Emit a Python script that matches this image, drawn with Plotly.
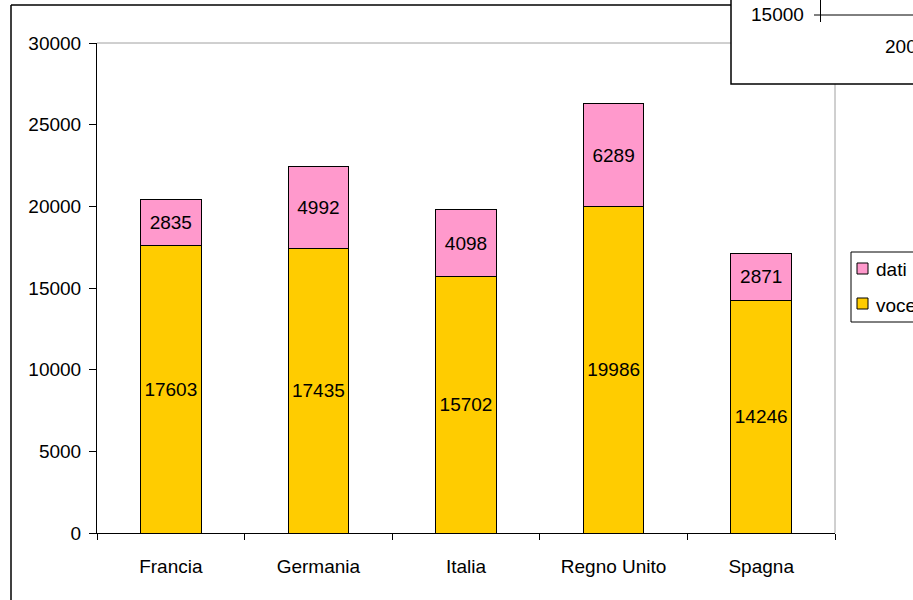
import plotly.graph_objects as go

categories = ["Francia", "Germania", "Italia", "Regno Unito", "Spagna"]
voce = [17603, 17435, 15702, 19986, 14246]
dati = [2835, 4992, 4098, 6289, 2871]
y_ticks = [0, 5000, 10000, 15000, 20000, 25000, 30000]

PINK = "#FF99CC"
YELLOW = "#FFCC00"
FONT = "Liberation Sans, Arial, sans-serif"
FS = 19

W, H = 913, 600
L, R, T, B = 97, 835, 43, 533


def px(x):
    return (x - L) / (R - L)


def py(y):
    return (B - y) / (B - T)


fig = go.Figure()
fig.add_trace(go.Bar(
    x=categories, y=voce, name="voce", marker=dict(color=YELLOW, line=dict(color="black", width=1)),
    text=[str(v) for v in voce], textposition="inside", insidetextanchor="middle",
    textfont=dict(size=FS, color="black", family=FONT), constraintext="none",
    width=0.41, showlegend=False,
))
fig.add_trace(go.Bar(
    x=categories, y=dati, name="dati", marker=dict(color=PINK, line=dict(color="black", width=1)),
    text=[str(v) for v in dati], textposition="inside", insidetextanchor="middle",
    textfont=dict(size=FS, color="black", family=FONT), constraintext="none",
    width=0.41, showlegend=False,
))

shapes = []
# plot area border (top and right, gray)
shapes.append(dict(type="line", xref="paper", yref="paper", x0=0, x1=1, y0=1, y1=1,
                   line=dict(color="#A0A0A0", width=1)))
shapes.append(dict(type="line", xref="paper", yref="paper", x0=1, x1=1, y0=0, y1=1,
                   line=dict(color="#A0A0A0", width=1)))
# outer chart border
shapes.append(dict(type="line", xref="paper", yref="paper", x0=px(11), x1=px(11), y0=py(5), y1=py(610),
                   line=dict(color="black", width=1.5)))
shapes.append(dict(type="line", xref="paper", yref="paper", x0=px(11), x1=px(731), y0=py(5), y1=py(5),
                   line=dict(color="black", width=1.5)))
# overlapping box of another chart
shapes.append(dict(type="rect", xref="paper", yref="paper", x0=px(731), x1=px(930), y0=py(84), y1=py(-10),
                   fillcolor="white", line=dict(color="black", width=1.5)))
shapes.append(dict(type="line", xref="paper", yref="paper", x0=px(814), x1=px(920), y0=py(15), y1=py(15),
                   line=dict(color="black", width=1)))
shapes.append(dict(type="line", xref="paper", yref="paper", x0=px(820.5), x1=px(820.5), y0=py(-2), y1=py(22),
                   line=dict(color="black", width=1)))
# legend box
shapes.append(dict(type="rect", xref="paper", yref="paper", x0=px(851), x1=px(940), y0=py(322), y1=py(252),
                   fillcolor="white", line=dict(color="black", width=1)))
shapes.append(dict(type="rect", xref="paper", yref="paper", x0=px(857), x1=px(868), y0=py(274), y1=py(263),
                   fillcolor=PINK, line=dict(color="black", width=1)))
shapes.append(dict(type="rect", xref="paper", yref="paper", x0=px(857), x1=px(868), y0=py(309), y1=py(298),
                   fillcolor=YELLOW, line=dict(color="black", width=1)))

annotations = [
    dict(text="dati", x=px(874), y=py(269), xref="paper", yref="paper", xanchor="left", yanchor="middle",
         showarrow=False, font=dict(size=FS, color="black", family=FONT)),
    dict(text="voce", x=px(874), y=py(305), xref="paper", yref="paper", xanchor="left", yanchor="middle",
         showarrow=False, font=dict(size=FS, color="black", family=FONT)),
    dict(text="15000", x=px(806), y=py(15), xref="paper", yref="paper", xanchor="right", yanchor="middle",
         showarrow=False, font=dict(size=FS, color="black", family=FONT)),
    dict(text="2000", x=px(883), y=py(47), xref="paper", yref="paper", xanchor="left", yanchor="middle",
         showarrow=False, font=dict(size=FS, color="black", family=FONT)),
]

fig.update_layout(
    width=W, height=H,
    margin=dict(l=L, r=W - R, t=T, b=H - B),
    paper_bgcolor="white", plot_bgcolor="white",
    barmode="stack", bargap=0.59,
    font=dict(family=FONT, size=FS, color="black"),
    shapes=shapes, annotations=annotations,
    xaxis=dict(
        showgrid=False, showline=True, linecolor="black", linewidth=1,
        ticks="outside", ticklen=6, tickcolor="black", tickson="boundaries",
        ticklabelstandoff=16,
        tickfont=dict(size=FS, family=FONT, color="black"),
    ),
    yaxis=dict(
        range=[0, 30000], tickvals=y_ticks, ticktext=[str(v) for v in y_ticks],
        showgrid=False, showline=True, linecolor="black", linewidth=1,
        ticks="outside", ticklen=7, tickcolor="black", ticklabelstandoff=4,
        tickfont=dict(size=FS, family=FONT, color="black"), zeroline=False,
    ),
)

fig.write_html("out.html", config={"displayModeBar": False},
               post_script="document.body.style.margin='0';document.body.style.overflow='hidden';")
